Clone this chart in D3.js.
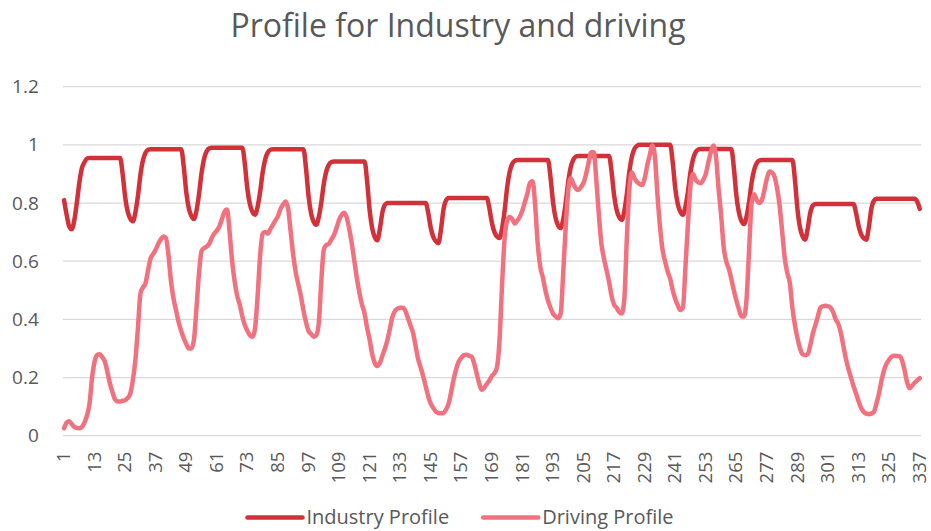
<html>
<head>
  <style type="text/css">
    body { margin: 0; background: #fff; }
    text { font-family: "Open Sans", "Noto Sans", sans-serif; fill: #595959; }
  </style>
</head>
<body>
  <svg width="931" height="531"></svg>
  <script src="https://cdnjs.cloudflare.com/ajax/libs/d3/7.8.5/d3.min.js"></script>
  <script>
  // values, one row per day (24 hours)
  const seriesNames = ['Industry Profile', 'Driving Profile'];
  const seriesColors = ['#d2313a', '#f2717e'];

  const industry = [
    0.81, 0.76, 0.72, 0.71, 0.74, 0.80, 0.87, 0.92, 0.94, 0.953, 0.955, 0.955, 0.955, 0.955, 0.955, 0.955, 0.955, 0.955, 0.955, 0.955, 0.955, 0.955, 0.955, 0.90,
    0.82, 0.77, 0.746, 0.737, 0.767, 0.824, 0.898, 0.948, 0.973, 0.983, 0.985, 0.985, 0.985, 0.985, 0.985, 0.985, 0.985, 0.985, 0.985, 0.985, 0.985, 0.985, 0.985, 0.925,
    0.836, 0.781, 0.755, 0.745, 0.774, 0.831, 0.904, 0.953, 0.978, 0.988, 0.99, 0.99, 0.99, 0.99, 0.99, 0.99, 0.99, 0.99, 0.99, 0.99, 0.99, 0.99, 0.99, 0.933,
    0.847, 0.795, 0.769, 0.76, 0.787, 0.839, 0.906, 0.951, 0.974, 0.983, 0.985, 0.985, 0.985, 0.985, 0.985, 0.985, 0.985, 0.985, 0.985, 0.985, 0.985, 0.985, 0.985, 0.92,
    0.824, 0.764, 0.735, 0.725, 0.751, 0.801, 0.867, 0.91, 0.932, 0.941, 0.943, 0.943, 0.943, 0.943, 0.943, 0.943, 0.943, 0.943, 0.943, 0.943, 0.943, 0.943, 0.943, 0.875,
    0.775, 0.713, 0.683, 0.672, 0.71, 0.768, 0.794, 0.80, 0.80, 0.80, 0.80, 0.80, 0.80, 0.80, 0.80, 0.80, 0.80, 0.80, 0.80, 0.80, 0.80, 0.80, 0.80, 0.766,
    0.714, 0.683, 0.668, 0.662, 0.709, 0.778, 0.809, 0.817, 0.817, 0.817, 0.817, 0.817, 0.817, 0.817, 0.817, 0.817, 0.817, 0.817, 0.817, 0.817, 0.817, 0.817, 0.817, 0.783,
    0.732, 0.70, 0.685, 0.68, 0.712, 0.774, 0.854, 0.908, 0.935, 0.945, 0.948, 0.948, 0.948, 0.948, 0.948, 0.948, 0.948, 0.948, 0.948, 0.948, 0.948, 0.948, 0.948, 0.89,
    0.803, 0.749, 0.723, 0.714, 0.744, 0.801, 0.875, 0.925, 0.95, 0.96, 0.962, 0.962, 0.962, 0.962, 0.962, 0.962, 0.962, 0.962, 0.962, 0.962, 0.962, 0.962, 0.962, 0.907,
    0.826, 0.775, 0.751, 0.742, 0.773, 0.832, 0.91, 0.961, 0.987, 0.997, 1.0, 1.0, 1.0, 1.0, 1.0, 1.0, 1.0, 1.0, 1.0, 1.0, 1.0, 1.0, 1.0, 0.94,
    0.851, 0.796, 0.77, 0.76, 0.787, 0.839, 0.907, 0.952, 0.975, 0.984, 0.986, 0.986, 0.986, 0.986, 0.986, 0.986, 0.986, 0.986, 0.986, 0.986, 0.986, 0.986, 0.986, 0.922,
    0.826, 0.767, 0.738, 0.728, 0.754, 0.805, 0.871, 0.915, 0.937, 0.946, 0.948, 0.948, 0.948, 0.948, 0.948, 0.948, 0.948, 0.948, 0.948, 0.948, 0.948, 0.948, 0.948, 0.88,
    0.778, 0.715, 0.685, 0.674, 0.711, 0.766, 0.791, 0.797, 0.797, 0.797, 0.797, 0.797, 0.797, 0.797, 0.797, 0.797, 0.797, 0.797, 0.797, 0.797, 0.797, 0.797, 0.797, 0.766,
    0.721, 0.692, 0.679, 0.674, 0.716, 0.78, 0.808, 0.815, 0.815, 0.815, 0.815, 0.815, 0.815, 0.815, 0.815, 0.815, 0.815, 0.815, 0.815, 0.815, 0.815, 0.815, 0.815, 0.805,
    0.78
  ];

  const driving = [
    0.026, 0.045, 0.05, 0.04, 0.03, 0.027, 0.026, 0.03, 0.045, 0.07, 0.11, 0.2, 0.255, 0.278, 0.28, 0.27, 0.255, 0.22, 0.18, 0.15, 0.125, 0.118, 0.118, 0.12,
    0.122, 0.13, 0.145, 0.19, 0.26, 0.37, 0.49, 0.51, 0.525, 0.57, 0.61, 0.625, 0.64, 0.66, 0.675, 0.685, 0.68, 0.62, 0.53, 0.47, 0.43, 0.39, 0.36, 0.335,
    0.315, 0.3, 0.3, 0.33, 0.44, 0.56, 0.635, 0.645, 0.65, 0.66, 0.68, 0.695, 0.705, 0.72, 0.745, 0.77, 0.778, 0.7, 0.6, 0.53, 0.48, 0.45, 0.41, 0.38,
    0.36, 0.345, 0.34, 0.37, 0.48, 0.62, 0.695, 0.7, 0.695, 0.71, 0.725, 0.74, 0.755, 0.78, 0.795, 0.805, 0.78, 0.7, 0.62, 0.56, 0.52, 0.48, 0.43, 0.39,
    0.36, 0.35, 0.34, 0.345, 0.385, 0.53, 0.64, 0.656, 0.66, 0.675, 0.69, 0.715, 0.742, 0.76, 0.767, 0.75, 0.71, 0.66, 0.6, 0.54, 0.49, 0.45, 0.42, 0.37,
    0.33, 0.28, 0.25, 0.24, 0.25, 0.275, 0.3, 0.33, 0.37, 0.41, 0.43, 0.437, 0.44, 0.44, 0.43, 0.405, 0.38, 0.355, 0.31, 0.265, 0.235, 0.205, 0.17, 0.135,
    0.11, 0.095, 0.083, 0.078, 0.077, 0.078, 0.09, 0.11, 0.15, 0.195, 0.23, 0.255, 0.268, 0.277, 0.278, 0.275, 0.272, 0.25, 0.215, 0.18, 0.158, 0.165, 0.178, 0.19,
    0.205, 0.215, 0.235, 0.33, 0.52, 0.68, 0.74, 0.752, 0.745, 0.73, 0.74, 0.754, 0.775, 0.805, 0.835, 0.87, 0.875, 0.79, 0.66, 0.58, 0.545, 0.5, 0.465, 0.44,
    0.42, 0.41, 0.404, 0.42, 0.56, 0.72, 0.845, 0.885, 0.865, 0.85, 0.845, 0.855, 0.87, 0.9, 0.94, 0.975, 0.975, 0.88, 0.76, 0.66, 0.61, 0.57, 0.53, 0.48,
    0.45, 0.44, 0.425, 0.42, 0.47, 0.68, 0.85, 0.905, 0.885, 0.872, 0.865, 0.862, 0.885, 0.93, 0.965, 0.998, 0.96, 0.83, 0.72, 0.64, 0.6, 0.565, 0.54, 0.5,
    0.47, 0.448, 0.432, 0.44, 0.58, 0.73, 0.86, 0.9, 0.88, 0.872, 0.868, 0.88, 0.9, 0.94, 0.975, 0.998, 0.96, 0.85, 0.76, 0.65, 0.6, 0.575, 0.54, 0.5,
    0.465, 0.435, 0.41, 0.41, 0.47, 0.64, 0.8, 0.83, 0.81, 0.8, 0.81, 0.845, 0.885, 0.908, 0.905, 0.89, 0.85, 0.79, 0.7, 0.61, 0.56, 0.525, 0.44, 0.38,
    0.335, 0.3, 0.28, 0.277, 0.28, 0.31, 0.35, 0.38, 0.41, 0.44, 0.445, 0.447, 0.445, 0.44, 0.425, 0.4, 0.385, 0.355, 0.31, 0.265, 0.23, 0.2, 0.17, 0.145,
    0.118, 0.095, 0.082, 0.076, 0.074, 0.076, 0.082, 0.11, 0.145, 0.19, 0.225, 0.248, 0.262, 0.272, 0.275, 0.274, 0.273, 0.26, 0.227, 0.185, 0.163, 0.172, 0.182, 0.19,
    0.198
  ];

  const xTickLabels = [1, 13, 25, 37, 49, 61, 73, 85, 97, 109, 121, 133, 145, 157, 169, 181, 193, 205, 217, 229, 241, 253, 265, 277, 289, 301, 313, 325, 337];
  const yTicks = [0, 0.2, 0.4, 0.6, 0.8, 1, 1.2];

  const hours = d3.range(1, industry.length + 1);

  const svg = d3.select("svg");

  const x = d3.scalePoint()
    .domain(hours)
    .range([62.8, 921])
    .padding(0.5);

  const y = d3.scaleLinear()
    .domain([0, 1.2])
    .range([435.7, 86.7]);

  // title
  svg.append("text")
    .attr("x", 458)
    .attr("y", 37)
    .attr("text-anchor", "middle")
    .style("font-size", "32px")
    .text("Profile for Industry and driving");

  // gridlines
  svg.append("g")
    .selectAll("line")
    .data(yTicks)
    .join("line")
      .attr("x1", 62.8)
      .attr("x2", 921)
      .attr("y1", d => y(d))
      .attr("y2", d => y(d))
      .attr("stroke", "#d9d9d9")
      .attr("stroke-width", 1.3);

  // y axis labels
  const yAxis = svg.append("g")
    .attr("transform", "translate(62.8,0)")
    .call(d3.axisLeft(y).tickValues(yTicks).tickSize(0).tickPadding(24).tickFormat(d => String(d)));
  yAxis.select(".domain").remove();
  yAxis.selectAll("text")
    .attr("fill", "#595959")
    .style("font-size", "19px")
    .style("font-family", '"Open Sans", "Noto Sans", sans-serif');

  // x axis labels, rotated
  const xAxis = svg.append("g")
    .attr("transform", "translate(0,435.7)")
    .call(d3.axisBottom(x).tickValues(xTickLabels).tickSize(0));
  xAxis.select(".domain").remove();
  xAxis.selectAll("text")
    .attr("fill", "#595959")
    .style("font-size", "18.5px")
    .style("font-family", '"Open Sans", "Noto Sans", sans-serif')
    .attr("transform", "rotate(-90)")
    .attr("x", -16)
    .attr("y", 0)
    .attr("dy", "0.3em")
    .style("text-anchor", "end");

  // lines
  const line = d3.line()
    .x((d, i) => x(hours[i]))
    .y(d => y(d))
    .curve(d3.curveMonotoneX);

  [industry, driving].forEach((series, k) => {
    svg.append("path")
      .datum(series)
      .attr("fill", "none")
      .attr("stroke", seriesColors[k])
      .attr("stroke-width", 4.5)
      .attr("stroke-linejoin", "round")
      .attr("stroke-linecap", "round")
      .attr("d", line);
  });

  // legend, centred under the plot
  const legend = svg.append("g");
  const items = legend.selectAll("g")
    .data(seriesNames)
    .join("g");

  items.append("line")
    .attr("x1", 0)
    .attr("x2", 55)
    .attr("y1", 517.5)
    .attr("y2", 517.5)
    .attr("stroke", (d, i) => seriesColors[i])
    .attr("stroke-width", 4.5)
    .attr("stroke-linecap", "round");

  items.append("text")
    .attr("x", 59)
    .attr("y", 524)
    .style("font-size", "20px")
    .text(d => d);

  let widths = [];
  items.each(function() { widths.push(this.getBBox().width); });
  const gap = 34;
  const total = d3.sum(widths) + gap * (widths.length - 1);
  let offset = 460.5 - total / 2;
  items.attr("transform", (d, i) => {
    const t = "translate(" + offset + ",0)";
    offset += widths[i] + gap;
    return t;
  });
  </script>
</body>
</html>
